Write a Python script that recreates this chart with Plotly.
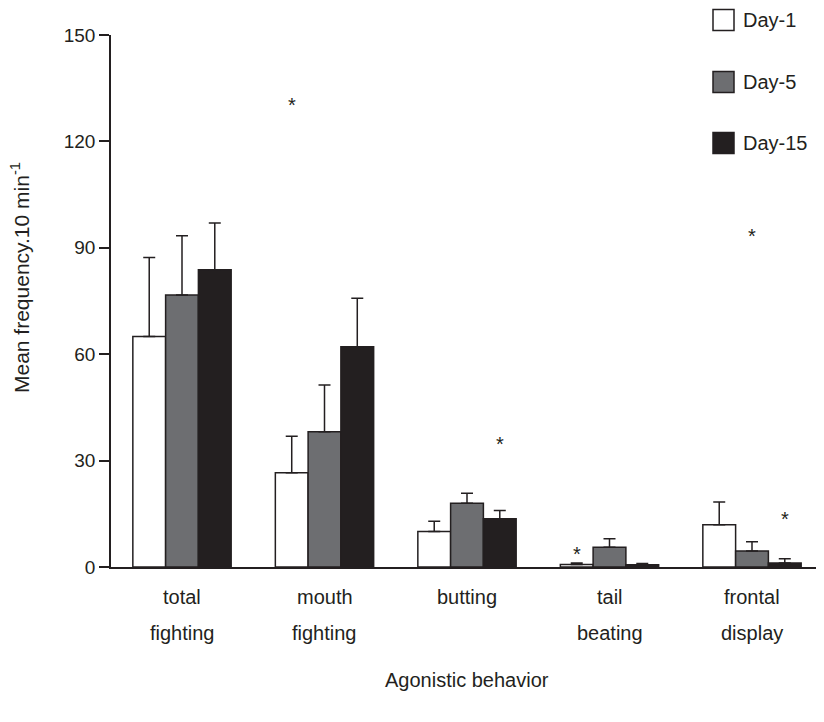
import plotly.graph_objects as go

# ---- data ----
categories = ["total fighting", "mouth fighting", "butting", "tail beating", "frontal display"]
label_line1 = ["total", "mouth", "butting", "tail", "frontal"]
label_line2 = ["fighting", "fighting", "", "beating", "display"]
series_names = ["Day-1", "Day-5", "Day-15"]

day1_mean = [65.0, 26.6, 10.0, 0.7, 11.9]
day1_se = [22.3, 10.3, 2.9, 0.4, 6.4]
day5_mean = [76.7, 38.1, 18.0, 5.6, 4.5]
day5_se = [16.7, 13.2, 2.8, 2.4, 2.6]
day15_mean = [83.8, 62.1, 13.6, 0.6, 1.1]
day15_se = [13.2, 13.7, 2.3, 0.4, 1.2]

# significance asterisks: (category index, series index, y position)
ast_cat = [1, 2, 3, 4, 4]
ast_series = [0, 2, 0, 1, 2]
ast_y = [130.8, 35.2, 4.2, 93.9, 14.1]

y_ticks = [0, 30, 60, 90, 120, 150]

# ---- style ----
INK = "#231f20"
fills = ["#ffffff", "#6d6e71", INK]
FONT = "Liberation Sans, Arial, sans-serif"
FS = 20
BARGAP = 0.31

OFF = 8  # page body margin
W, H = 824 - OFF, 722 - OFF
ML, MR, MT, MB = 111 - OFF, 4, 35 - OFF, 722 - 567
PW, PH = W - ML - MR, H - MT - MB
CAT_PX = 142.5

def px_x(px):
    return (px - OFF - ML) / PW

def px_y(py):
    return (MT + PH - (py - OFF)) / PH

means = [day1_mean, day5_mean, day15_mean]
ses = [day1_se, day5_se, day15_se]

x_idx = list(range(len(categories)))

fig = go.Figure()
for i, name in enumerate(series_names):
    fig.add_trace(go.Bar(
        x=x_idx, y=means[i], name=name,
        marker=dict(color=fills[i], line=dict(color=INK, width=1.5)),
        error_y=dict(type="data", array=ses[i], arrayminus=[0] * len(ses[i]),
                     symmetric=False, color=INK, thickness=1.5, width=6),
        showlegend=False,
    ))

annotations = []
# category labels (two lines)
for i in x_idx:
    annotations.append(dict(x=i, y=px_y(597), xref="x", yref="paper", text=label_line1[i],
                            showarrow=False, xanchor="center", yanchor="middle",
                            font=dict(family=FONT, size=FS, color=INK)))
    if label_line2[i]:
        annotations.append(dict(x=i, y=px_y(633), xref="x", yref="paper", text=label_line2[i],
                                showarrow=False, xanchor="center", yanchor="middle",
                                font=dict(family=FONT, size=FS, color=INK)))

# asterisks
bw = (1 - BARGAP) / len(series_names)
for c, s, yv in zip(ast_cat, ast_series, ast_y):
    annotations.append(dict(x=c + (s - 1) * bw, y=yv, xref="x", yref="y", text="*",
                            showarrow=False, xanchor="center", yanchor="middle", yshift=-2,
                            font=dict(family=FONT, size=FS, color=INK)))

# axis titles
annotations.append(dict(x=px_x(467), y=px_y(680), xref="paper", yref="paper",
                        text="Agonistic behavior", showarrow=False,
                        xanchor="center", yanchor="middle",
                        font=dict(family=FONT, size=FS, color=INK)))
annotations.append(dict(x=px_x(20), y=px_y(278), xref="paper", yref="paper",
                        text="Mean frequency.10 min<sup>-1</sup>", showarrow=False,
                        textangle=-90, xanchor="center", yanchor="middle",
                        font=dict(family=FONT, size=21, color=INK)))

# manual legend
shapes = []
legend_centers = [20, 82, 143]
for i, name in enumerate(series_names):
    cy = legend_centers[i]
    shapes.append(dict(type="rect", xref="paper", yref="paper",
                       x0=px_x(713), x1=px_x(734), y0=px_y(cy + 10.5), y1=px_y(cy - 10.5),
                       fillcolor=fills[i], line=dict(color=INK, width=1.5)))
    annotations.append(dict(x=px_x(741), y=px_y(cy), xref="paper", yref="paper",
                            text=name, showarrow=False, xanchor="left", yanchor="middle",
                            font=dict(family=FONT, size=FS, color=INK)))

fig.update_layout(
    width=W, height=H,
    margin=dict(l=ML, r=MR, t=MT, b=MB, pad=0),
    paper_bgcolor="white", plot_bgcolor="white",
    barmode="group", bargap=BARGAP, bargroupgap=0,
    font=dict(family=FONT, size=FS, color=INK),
    xaxis=dict(range=[-(182 - 111) / CAT_PX, -(182 - 111) / CAT_PX + PW / CAT_PX],
               showline=True, linecolor=INK, linewidth=1.5,
               showticklabels=False, ticks="", showgrid=False, zeroline=False, fixedrange=True),
    yaxis=dict(range=[0, 150], tickvals=y_ticks, ticktext=[str(t) for t in y_ticks],
               showline=True, linecolor=INK, linewidth=1.5,
               ticks="outside", ticklen=10, tickwidth=1.5, tickcolor=INK,
               tickfont=dict(family=FONT, size=19, color=INK),
               showgrid=False, zeroline=False),
    annotations=annotations,
    shapes=shapes,
)

fig.write_html("out.html")
